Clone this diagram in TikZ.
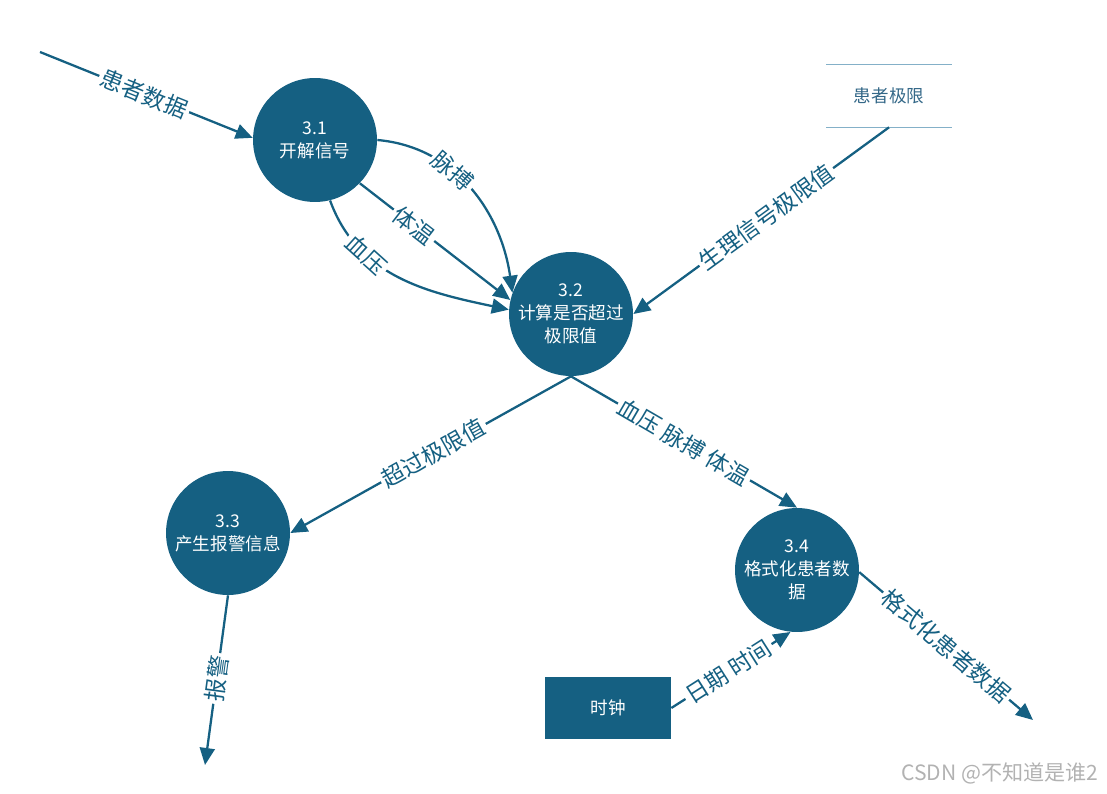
\documentclass[tikz,border=0pt]{standalone}
\usepackage{fontspec}
\setmainfont{Noto Sans CJK SC}
\usepackage{xcolor}
\usetikzlibrary{arrows.meta,positioning}

\definecolor{dfdblue}{RGB}{21,96,130}
\definecolor{storeline}{RGB}{132,176,200}
\definecolor{storetext}{RGB}{52,104,136}

\begin{document}
\begin{tikzpicture}[
      x=0.02cm, y=-0.02cm,
      font=\fontsize{10}{13}\selectfont,
      proc/.style={circle, fill=dfdblue, text=white, align=center,
                   minimum size=2.48cm, inner sep=0pt},
      term/.style={rectangle, fill=dfdblue, text=white,
                   minimum width=2.52cm, minimum height=1.24cm},
      store/.style={minimum width=2.5cm, minimum height=1.24cm,
                    text=storetext},
      storeln/.style={draw=storeline, line width=0.8pt},
      flow/.style={-{Triangle[length=3.4mm,width=3mm]}, line width=1.3pt,
                   draw=dfdblue},
      lbl/.style={sloped, fill=white, text=dfdblue, inner sep=1.5pt,
                  font=\fontsize{13}{15}\selectfont},
    ]
    \useasboundingbox (0,0) rectangle (1107,794);

    % --- processes, store and terminator -------------------------------
    \node[proc] (p31) at (315,140) {3.1\\开解信号};
    \node[proc] (p32) at (571,314) {3.2\\计算是否超过\\极限值};
    \node[proc] (p33) at (228,533) {3.3\\产生报警信息};
    \node[proc] (p34) at (797,570) {3.4\\格式化患者数\\据};
    \node[store] (limits) at (889,96) {患者极限};
    \draw[storeln] (limits.north west) -- (limits.north east);
    \draw[storeln] (limits.south west) -- (limits.south east);
    \node[term] (clock) at (608,708) {时钟};

    % --- free ends of the flows ------------------------------------------
    \coordinate (src)    at (40,52);
    \coordinate (alarm)  at (205,765);
    \coordinate (fmtout) at (1033,720);

    % --- flows into 3.1 and 3.2 ------------------------------------------
    \draw[flow] (src) -- node[lbl, pos=0.49] {患者数据} (p31.178);
    \draw[flow] (p31.east) to[out=-5, in=98]
                node[lbl, pos=0.38] {脉搏} (p32.160);
    \draw[flow] (p31.-44) -- node[lbl, pos=0.36] {体温} (p32.167);
    \draw[flow] (p31.-76) to[out=-70, in=168]
                node[lbl, pos=0.3] {血压} (p32.176);
    \draw[flow] (limits.south) -- node[lbl, pos=0.48] {生理信号极限值}
                (p32.east);

    % --- flows out of 3.2 ------------------------------------------------
    \draw[flow] (p32.south) -- node[lbl, pos=0.49] {超过极限值} (p33.east);
    \draw[flow] (p32.south) -- node[lbl, pos=0.5] {血压 脉搏 体温}
                (p34.north);

    % --- outputs -----------------------------------------------------------
    \draw[flow] (p33.south) -- node[lbl, pos=0.49] {报警} (alarm);
    \draw[flow] (clock.east) -- node[lbl, pos=0.48] {日期 时间} (p34.-96);
    \draw[flow] (p34.-2) -- node[lbl, pos=0.5] {格式化患者数据} (fmtout);

    \node[text=black!30, font=\fontsize{12}{14}\selectfont] (wm)
         at (1000,773) {CSDN @不知道是谁2};
  \end{tikzpicture}
\end{document}
